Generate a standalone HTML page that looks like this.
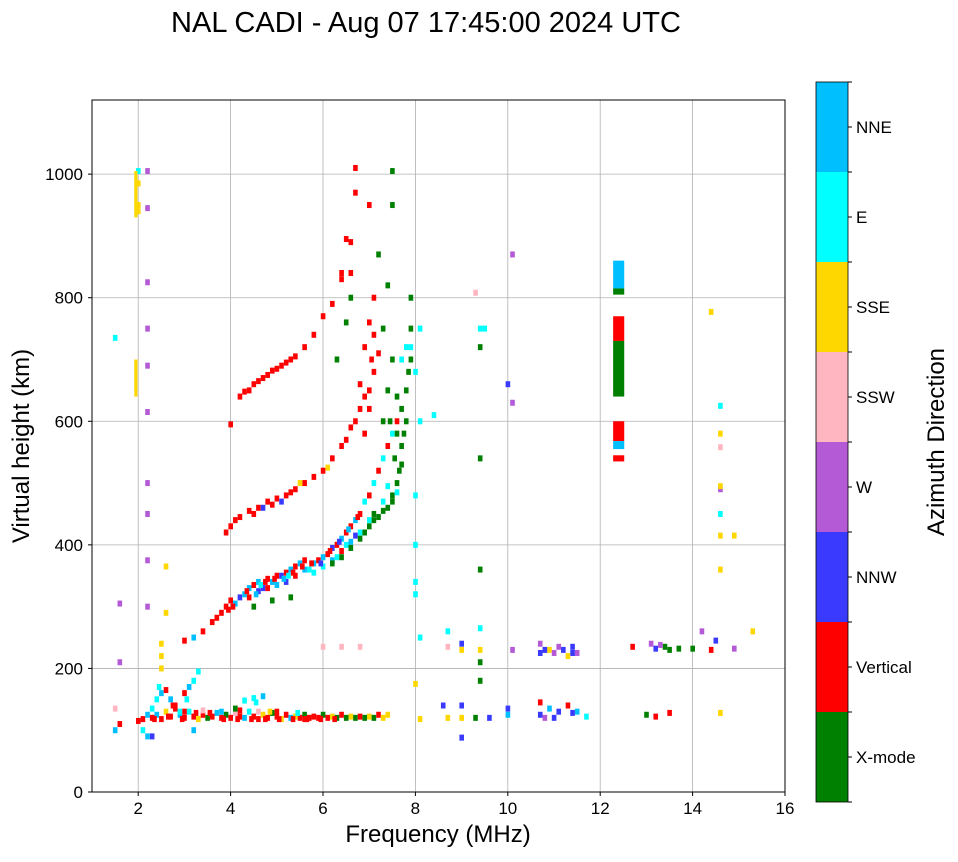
<!DOCTYPE html>
<html><head><meta charset="utf-8"><style>
body{margin:0;background:#fff;}
svg text{font-family:"Liberation Sans",sans-serif;fill:#000;}
</style></head><body>
<svg id="chart" width="958" height="857" viewBox="0 0 958 857" xmlns="http://www.w3.org/2000/svg">
<text x="426" y="32" font-size="29" text-anchor="middle">NAL CADI - Aug 07 17:45:00 2024 UTC</text>
<g id="grid"></g>
<g id="marks"></g>
<rect x="92" y="100" width="693" height="692" fill="none" stroke="#000" stroke-width="1"/>
<g id="ticks"></g>
<text x="438" y="842" font-size="24" text-anchor="middle">Frequency (MHz)</text>
<text transform="translate(29,446) rotate(-90)" font-size="24" text-anchor="middle">Virtual height (km)</text>
<g id="cbar"></g>
<text transform="translate(944,442) rotate(-90)" font-size="24" text-anchor="middle">Azimuth Direction</text>
</svg>
<script>
const directions=["X-mode","Vertical","NNW","W","SSW","SSE","E","NNE"];
const dirColors=["#008000","#ff0000","#3a3aff","#b45ad6","#ffb6c1","#ffd700","#00ffff","#00bfff"];
const xTicks=[2,4,6,8,10,12,14,16];
const yTicks=[0,200,400,600,800,1000];
// cells: [frequency MHz, virtual height km, direction index]
const eLayerCells=[[2.3,120,1],[2.4,125,7],[2.5,118,1],[2.6,130,5],[2.7,122,1],[2.8,140,1],[2.9,125,7],[3.0,120,1],[3.1,130,6],[3.2,122,1],[3.3,118,5],[3.4,125,1],[3.5,120,0],[3.6,122,1],[3.7,128,7],[3.8,120,1],[3.9,125,0],[4.0,120,1],[4.1,128,4],[4.2,122,1],[4.3,120,7],[4.4,130,6],[4.5,122,1],[4.6,118,1],[4.7,125,5],[4.8,120,1],[4.9,128,0],[5.0,122,1],[5.1,118,5],[5.2,125,1],[5.3,120,7],[5.4,122,5],[5.5,120,1],[5.6,125,0],[5.7,120,1],[5.8,122,1],[5.9,120,1],[6.0,125,0],[6.1,120,1],[6.2,122,5],[6.3,120,0],[6.4,125,1],[6.5,120,0],[6.6,122,5],[6.7,120,0],[6.8,122,1],[6.9,120,0],[7.0,122,5],[7.1,120,0],[7.2,125,1],[7.3,120,5],[7.4,125,5],[3.0,130,1],[3.4,132,4],[3.8,130,7],[4.2,132,1],[4.6,130,4],[5.0,130,1],[4.3,148,6],[4.5,152,6],[4.7,155,7],[4.1,135,0],[5.6,118,1],[2.35,118,1],[2.65,122,1],[2.95,118,1],[3.25,128,1],[3.55,128,1],[3.85,118,1],[4.15,118,1],[4.45,118,1],[4.75,118,1],[5.05,118,1],[5.35,118,1],[5.65,118,1],[5.95,118,1],[6.25,118,1],[4.55,145,6],[4.85,130,5],[5.45,128,6]];
const lowCells=[[1.5,100,7],[1.6,110,1],[1.5,135,4],[2.0,115,1],[2.1,118,1],[2.2,125,7],[2.3,135,6],[2.4,150,6],[2.5,160,7],[2.6,165,1],[2.7,150,7],[2.8,135,1],[3.0,160,1],[3.1,170,7],[3.2,180,6],[3.3,195,6],[3.2,100,7],[2.5,200,5],[2.5,220,5],[2.5,240,5],[2.6,290,5],[2.6,365,5],[2.3,90,2],[2.2,90,7],[2.1,100,6],[2.45,170,6],[2.75,140,1],[3.05,150,6],[2.9,130,6]];
const fTraceCells=[[3.0,245,1],[3.2,250,7],[3.4,260,1],[3.6,275,1],[3.8,290,1],[3.9,300,1],[4.0,310,1],[4.1,305,7],[4.2,315,2],[4.3,320,7],[4.4,330,7],[4.5,335,1],[4.6,340,7],[4.7,330,2],[4.8,345,1],[4.9,340,7],[5.0,350,1],[5.1,350,2],[5.2,355,1],[5.3,360,7],[5.4,365,1],[5.5,370,7],[5.6,375,1],[5.7,360,6],[5.8,370,7],[5.9,375,1],[6.0,380,7],[6.1,385,1],[6.2,395,2],[6.3,400,1],[6.4,410,7],[6.5,420,1],[6.6,430,1],[6.7,440,7],[6.8,450,1],[6.9,470,6],[7.0,480,1],[7.1,500,6],[7.2,520,1],[7.3,540,6],[7.4,560,1],[7.5,580,6],[7.6,600,1],[4.4,315,1],[4.6,325,2],[4.8,330,1],[5.0,335,7],[5.2,340,2],[5.4,350,1],[5.6,360,7],[5.8,355,6],[6.0,365,6],[6.2,375,7],[6.4,390,1],[6.6,405,7],[6.8,420,6],[7.0,440,6],[4.5,300,0],[4.9,310,0],[5.3,315,0],[3.7,282,1],[3.95,295,1],[4.05,300,1],[4.35,325,1],[4.55,320,7],[4.75,340,1],[4.95,345,1],[5.15,345,7],[5.35,355,1],[5.55,365,1],[5.75,370,1],[5.95,370,2],[6.15,390,1],[6.35,405,2],[6.55,425,7],[6.75,445,1],[6.3,380,6],[6.5,400,6],[6.7,415,2],[4.65,335,6],[5.25,350,6]];
const xTraceCells=[[6.2,370,0],[6.4,380,0],[6.6,395,0],[6.8,410,0],[7.0,430,0],[7.2,445,0],[7.4,460,0],[7.5,480,0],[7.6,500,0],[7.7,530,0],[7.7,560,0],[7.8,600,0],[7.8,650,0],[7.9,700,0],[7.9,750,0],[7.9,800,0],[7.5,1005,0],[7.3,600,0],[7.4,650,0],[7.5,700,0],[7.3,750,0],[7.4,820,0],[7.2,870,0],[7.5,950,0],[7.6,580,0],[7.7,620,0],[6.5,760,0],[6.6,800,0],[6.3,700,0],[7.1,450,0],[7.3,470,6],[7.6,485,6],[7.4,495,6],[6.9,420,0],[7.1,440,0],[7.3,455,0],[7.5,470,0],[7.65,520,0],[7.75,580,0],[7.85,680,0],[7.6,640,0],[7.55,540,0],[7.45,600,0],[7.8,720,6],[7.7,700,6]];
const hopCells=[[3.9,420,1],[4.0,430,1],[4.2,445,1],[4.4,455,1],[4.6,460,1],[4.8,470,1],[5.0,475,1],[5.2,480,1],[5.4,490,1],[5.6,500,1],[5.8,510,1],[6.0,520,1],[6.2,540,1],[6.4,560,1],[6.6,590,1],[6.8,620,1],[7.0,650,1],[7.1,680,1],[7.2,710,1],[6.9,720,1],[7.0,760,1],[7.1,800,1],[6.6,840,1],[6.6,890,1],[6.7,970,1],[7.0,950,1],[6.7,1010,1],[4.2,640,1],[4.4,650,1],[4.6,665,1],[4.8,675,1],[5.0,685,1],[5.2,695,1],[5.4,705,1],[5.6,720,1],[5.8,740,1],[6.0,770,1],[6.2,790,1],[6.4,830,1],[6.4,840,1],[6.5,895,1],[7.0,620,1],[6.9,580,1],[4.7,460,2],[5.1,470,2],[5.5,500,5],[6.1,525,5],[4.0,595,1],[4.3,648,1],[4.5,660,1],[4.7,670,1],[4.9,682,1],[5.1,690,1],[5.3,700,1],[4.1,440,1],[4.5,450,1],[4.9,465,1],[5.3,485,1],[6.5,570,1],[6.7,600,1],[6.9,640,1],[7.05,700,1],[7.1,740,1],[6.8,660,1]];
const scatterCells=[[7.9,720,6],[8.0,680,6],[8.1,600,6],[8.0,480,6],[8.0,400,6],[8.0,340,6],[8.0,320,6],[8.1,250,6],[8.0,175,5],[8.4,610,6],[8.1,750,6],[8.7,235,4],[8.7,260,6],[9.0,240,2],[9.0,230,5],[9.4,230,5],[9.4,265,6],[9.4,720,0],[9.4,750,6],[9.5,750,6],[9.4,540,0],[9.4,360,0],[9.4,210,0],[9.4,180,0],[10.0,660,2],[10.1,630,3],[10.1,870,3],[10.1,230,3],[9.3,808,4],[10.7,240,3],[10.7,225,2],[10.9,230,5],[11.0,225,3],[11.2,230,2],[11.3,220,5],[11.4,235,2],[11.5,225,3],[12.7,235,1],[13.1,240,3],[13.2,232,2],[13.4,235,0],[13.7,232,0],[14.0,232,0],[14.2,260,3],[14.4,230,1],[14.5,245,2],[14.9,232,3],[15.3,260,5],[14.6,415,5],[14.9,415,5],[14.6,490,3],[14.6,495,5],[14.6,450,6],[14.6,360,5],[14.6,580,5],[14.6,625,6],[14.4,777,5],[14.6,128,5],[14.6,558,4],[10.0,135,2],[10.0,125,7],[10.7,125,2],[10.7,145,1],[10.8,120,3],[11.0,120,2],[11.3,140,1],[11.5,130,7],[11.7,122,6],[13.0,125,0],[13.2,122,1],[13.5,128,1],[9.0,120,5],[9.0,140,2],[8.6,140,2],[9.3,120,0],[9.6,120,2],[8.1,118,5],[8.7,120,5],[9.0,88,2],[1.5,735,6],[2.0,1005,6],[2.0,985,5],[2.0,950,5],[2.0,940,5],[2.2,1005,3],[2.2,945,3],[2.2,825,3],[2.2,750,3],[2.2,690,3],[2.2,615,3],[2.2,500,3],[2.2,450,3],[2.2,375,3],[2.2,300,3],[1.6,305,3],[1.6,210,3],[6.0,235,4],[6.4,235,4],[6.8,235,4],[10.8,230,2],[11.1,235,3],[11.4,225,2],[13.3,238,3],[13.5,230,0],[10.9,135,7],[11.1,130,2],[11.4,128,2]];
// blocks: [frequency, height bottom, height top, direction, width MHz]
const blockCells=[[12.4,815,860,7,0.24],[12.4,805,815,0,0.24],[12.4,730,770,1,0.24],[12.4,640,730,0,0.24],[12.4,568,600,1,0.24],[12.4,555,568,7,0.24],[12.4,535,545,1,0.24],[1.95,640,700,5,0.07],[1.95,930,1005,5,0.07]];

const X0=92,X1=785,Y0=792,Y1=100;
function xs(f){return X0+(f-1)/15*(X1-X0);}
function ys(h){return Y0-h/1120*(Y0-Y1);}
const NS="http://www.w3.org/2000/svg";
const grid=document.getElementById('grid'),ticks=document.getElementById('ticks'),marks=document.getElementById('marks'),cbar=document.getElementById('cbar');
function mk(tag,attrs,parent){const e=document.createElementNS(NS,tag);for(const k in attrs)e.setAttribute(k,attrs[k]);parent.appendChild(e);return e;}
xTicks.forEach(v=>{const x=xs(v);
 const g=mk('line',{x1:x,x2:x,y1:Y1,y2:Y0,stroke:'#b0b0b0','stroke-width':0.8},grid);
 
 
 mk('line',{x1:x,x2:x,y1:Y0,y2:Y0+4,stroke:'#000'},ticks);
 const t=mk('text',{x:x,y:Y0+22,'font-size':17,'text-anchor':'middle'},ticks);t.textContent=v;
 
 });
yTicks.forEach(v=>{const y=ys(v);
 const g=mk('line',{x1:X0,x2:X1,y1:y,y2:y,stroke:'#b0b0b0','stroke-width':0.8},grid);
 
 
 mk('line',{x1:X0-4,x2:X0,y1:y,y2:y,stroke:'#000'},ticks);
 const t=mk('text',{x:X0-9,y:y+6,'font-size':17,'text-anchor':'end'},ticks);t.textContent=v;
 
 });
const allCells=[].concat(eLayerCells,lowCells,fTraceCells,xTraceCells,hopCells,scatterCells);
allCells.forEach(c=>{
 const r=mk('rect',{x:xs(c[0])-2.2,y:ys(c[1])-3,width:4.6,height:6,fill:dirColors[c[2]]},marks);
 
 });
blockCells.forEach(b=>{
 const w=b[4]/15*(X1-X0);
 const r=mk('rect',{x:xs(b[0])-w/2,y:ys(b[2]),width:w,height:ys(b[1])-ys(b[2]),fill:dirColors[b[3]]},marks);
 
 });
const CB_X=816,CB_W=32,CB_TOP=82,CB_H=720,seg=CB_H/directions.length;
directions.forEach((d,i)=>{
 const y=CB_TOP+CB_H-(i+1)*seg;
 const r=mk('rect',{x:CB_X,y:y,width:CB_W,height:seg,fill:dirColors[i]},cbar);
 
 
 mk('line',{x1:CB_X+CB_W,x2:CB_X+CB_W+4,y1:y+seg/2,y2:y+seg/2,stroke:'#000'},cbar);
 const t=mk('text',{x:CB_X+CB_W+8,y:y+seg/2+6,'font-size':17},cbar);t.textContent=d;
 
 });
for(let i=0;i<=directions.length;i++){const y=CB_TOP+i*seg;mk('line',{x1:CB_X+CB_W,x2:CB_X+CB_W+4,y1:y,y2:y,stroke:'#000'},cbar);}
mk('rect',{x:CB_X,y:CB_TOP,width:CB_W,height:CB_H,fill:'none',stroke:'#000','stroke-width':0.8},cbar);
</script>
</body></html>
